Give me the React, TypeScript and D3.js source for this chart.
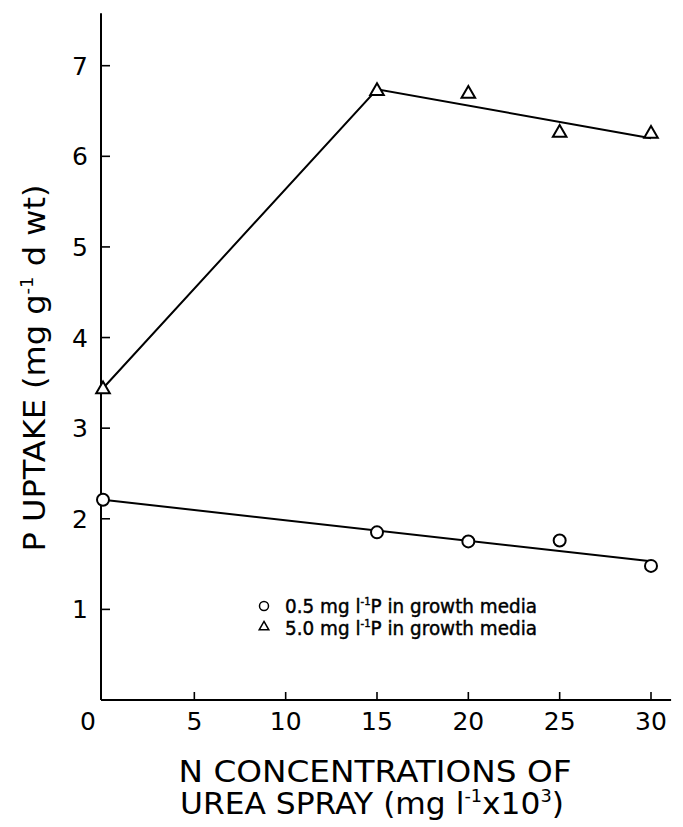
import React from "react";
import * as d3 from "d3";

const nConc = [0, 15, 20, 25, 30];
const lowP = [2.21, 1.85, 1.75, 1.76, 1.48];
const highP = [3.44, 6.73, 6.7, 6.27, 6.26];
const lowFitX = [0, 30];
const lowFitY = [2.21, 1.53];
const highFitX = [0, 15, 30];
const highFitY = [3.44, 6.74, 6.2];
const xTicks = [0, 5, 10, 15, 20, 25, 30];
const yTicks = [1, 2, 3, 4, 5, 6, 7];

const W = 683;
const H = 827;
const FONT = "'DejaVu Sans', 'Liberation Sans', sans-serif";

export default function App() {
  const x = d3.scaleLinear().domain([0, 30]).range([103, 651]);
  const y = d3.scaleLinear().domain([0, 7]).range([700, 65.7]);
  const line = d3
    .line<[number, number]>()
    .x((d) => x(d[0]))
    .y((d) => y(d[1]));
  const lowFit = lowFitX.map((v, i) => [v, lowFitY[i]] as [number, number]);
  const highFit = highFitX.map((v, i) => [v, highFitY[i]] as [number, number]);
  const tri = d3.symbol().type(d3.symbolTriangle).size(80);
  const x0 = x(0) - 2;

  return (
    <svg
      width={W}
      height={H}
      style={{ position: "absolute", left: 0, top: 0, background: "#fff" }}
      fontFamily={FONT}
    >
      <rect x={0} y={0} width={W} height={H} fill="#fff" />
      {/* axes */}
      <line x1={x0} x2={x0} y1={y(0)} y2={y(7.58)} stroke="#000" strokeWidth={2} />
      <line x1={x0} x2={x(31.1)} y1={y(0)} y2={y(0)} stroke="#000" strokeWidth={2} />
      {yTicks.map((t) => (
        <g key={"y" + t}>
          <line x1={x0} x2={x0 + 9} y1={y(t)} y2={y(t)} stroke="#000" strokeWidth={1.6} />
          <text x={88} y={y(t)} dy="0.36em" textAnchor="end" fontSize={25}>
            {t}
          </text>
        </g>
      ))}
      {xTicks.map((t) => (
        <g key={"x" + t}>
          {t > 0 && (
            <line x1={x(t)} x2={x(t)} y1={y(0)} y2={y(0) - 8} stroke="#000" strokeWidth={1.6} />
          )}
          <text x={x(t)} dx={t === 0 ? -15 : 0} y={730} textAnchor="middle" fontSize={25}>
            {t}
          </text>
        </g>
      ))}
      {/* fit lines */}
      <path d={line(lowFit) || ""} fill="none" stroke="#000" strokeWidth={2} />
      <path d={line(highFit) || ""} fill="none" stroke="#000" strokeWidth={2} />
      {/* points */}
      {nConc.map((n, i) => (
        <circle key={"c" + i} cx={x(n)} cy={y(lowP[i])} r={6} fill="#fff" stroke="#000" strokeWidth={2} />
      ))}
      {nConc.map((n, i) => (
        <path
          key={"t" + i}
          d={tri() || ""}
          transform={`translate(${x(n)},${y(highP[i]) + 1})`}
          fill="#fff"
          stroke="#000"
          strokeWidth={2}
        />
      ))}
      {/* legend */}
      <circle cx={264} cy={606} r={4.5} fill="#fff" stroke="#000" strokeWidth={1.5} />
      <path d={d3.symbol().type(d3.symbolTriangle).size(40)() || ""} transform="translate(264,627)" fill="#fff" stroke="#000" strokeWidth={1.5} />
      <text x={285} y={613} fontSize={20} stroke="#000" strokeWidth={0.45} textLength={252} lengthAdjust="spacingAndGlyphs">
        0.5 mg l<tspan dy={-8} fontSize={11}>-1</tspan><tspan dy={8}>P in growth media</tspan>
      </text>
      <text x={285} y={635} fontSize={20} stroke="#000" strokeWidth={0.45} textLength={252} lengthAdjust="spacingAndGlyphs">
        5.0 mg l<tspan dy={-8} fontSize={11}>-1</tspan><tspan dy={8}>P in growth media</tspan>
      </text>
      {/* y title */}
      <text
        transform="translate(45,368) rotate(-90)"
        textAnchor="middle"
        fontSize={30}
        textLength={367}
        lengthAdjust="spacingAndGlyphs"
      >
        P UPTAKE (mg g<tspan dy={-12} fontSize={17}>-1</tspan><tspan dy={12}> d wt)</tspan>
      </text>
      {/* x title */}
      <text x={375} y={782} textAnchor="middle" fontSize={30} textLength={393} lengthAdjust="spacingAndGlyphs">
        N CONCENTRATIONS OF
      </text>
      <text x={372} y={814} textAnchor="middle" fontSize={30} textLength={384} lengthAdjust="spacingAndGlyphs">
        UREA SPRAY (mg l<tspan dy={-12} fontSize={17}>-1</tspan><tspan dy={12}>x10</tspan><tspan dy={-12} fontSize={17}>3</tspan><tspan dy={12}>)</tspan>
      </text>
    </svg>
  );
}
